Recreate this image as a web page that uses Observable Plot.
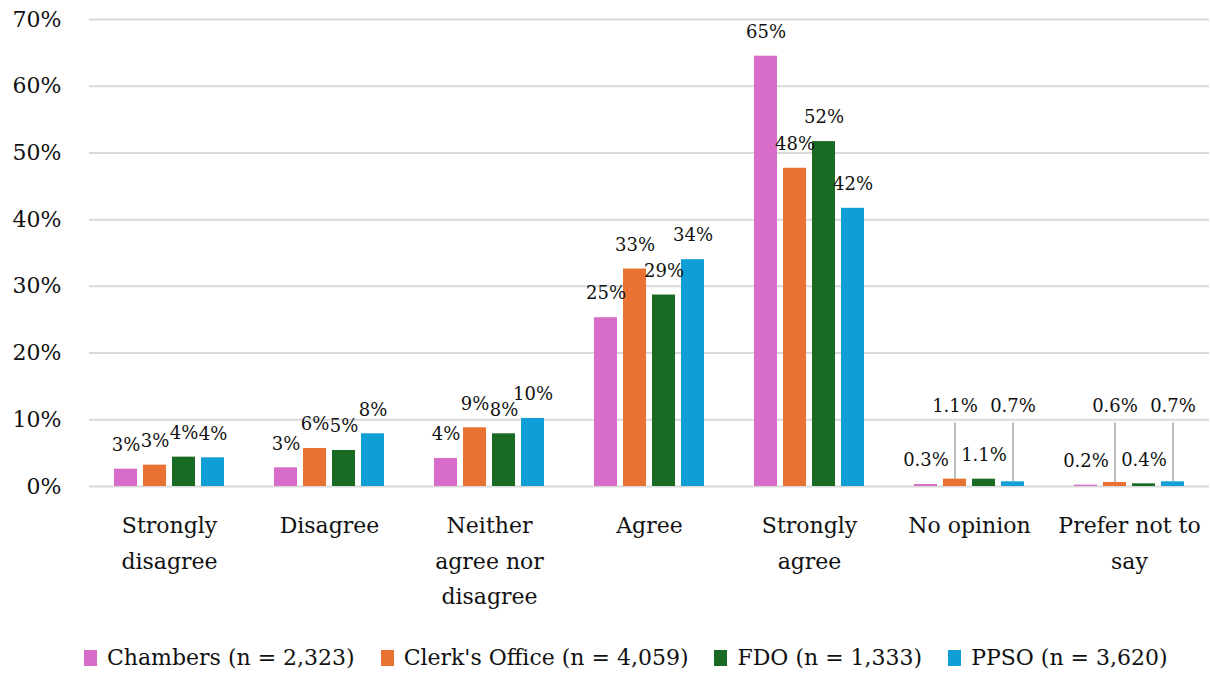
<!DOCTYPE html>
<html>
<head>
<meta charset="utf-8">
<script src="https://cdn.jsdelivr.net/npm/d3@7"></script>
<script src="https://cdn.jsdelivr.net/npm/@observablehq/plot@0.6"></script>
<style>
  html, body { margin: 0; padding: 0; background: #fff; }
  #chart { width: 1210px; height: 675px; position: relative; font-family: "DejaVu Serif", serif; }
  .legend { display: flex; align-items: center; height: 55px; padding-top: 20px; padding-left: 84px; box-sizing: border-box; font-size: 22px; color: #111; white-space: nowrap; }
  .legend .item { display: flex; align-items: center; margin-right: 26px; }
  .legend .sw { width: 13px; height: 16px; margin-right: 10px; }
</style>
</head>
<body>
<div id="chart"></div>
<script>
const categories = ["Strongly disagree", "Disagree", "Neither agree nor disagree", "Agree", "Strongly agree", "No opinion", "Prefer not to say"];
const categoryLines = ["Strongly\ndisagree", "Disagree", "Neither\nagree nor\ndisagree", "Agree", "Strongly\nagree", "No opinion", "Prefer not to\nsay"];
const series = ["Chambers (n = 2,323)", "Clerk's Office (n = 4,059)", "FDO (n = 1,333)", "PPSO (n = 3,620)"];
const chambers = [2.6, 2.8, 4.2, 25.3, 64.5, 0.3, 0.2];
const clerks   = [3.2, 5.7, 8.8, 32.6, 47.7, 1.1, 0.6];
const fdo      = [4.4, 5.4, 7.9, 28.7, 51.7, 1.1, 0.4];
const ppso     = [4.3, 7.9, 10.2, 34.0, 41.7, 0.7, 0.7];
const colors = ["#D76DC9", "#E97132", "#196B24", "#0F9ED5"];
const yTicks = [0, 10, 20, 30, 40, 50, 60, 70];
const decimalCategories = ["No opinion", "Prefer not to say"];
const leaderSeries = [series[1], series[3]];

const valuesBySeries = [chambers, clerks, fdo, ppso];
const data = [];
categories.forEach((c, i) => {
  series.forEach((s, j) => {
    data.push({category: c, series: s, value: valuesBySeries[j][i]});
  });
});
const fmt = d => decimalCategories.includes(d.category) ? d.value.toFixed(1) + "%" : Math.round(d.value) + "%";
const isLifted = d => decimalCategories.includes(d.category) && leaderSeries.includes(d.series);
const LIFT_Y = 12.0;   // label position for lifted labels (chart units)
const LEADER_TOP = 9.5;

const normal = data.filter(d => !isLifted(d));
const lifted = data.filter(d => isLifted(d));

const plot = Plot.plot({
  width: 1210,
  height: 620,
  marginTop: 19,
  marginBottom: 134,
  marginLeft: 88,
  marginRight: 0,
  style: {fontFamily: "DejaVu Serif, serif", color: "#111", background: "#fff"},
  fx: {domain: categories, padding: 0, label: null},
  x: {domain: series, paddingInner: 0.2, paddingOuter: 0.84, axis: null},
  y: {domain: [0, 70], label: null},
  color: {domain: series, range: colors},
  marks: [
    Plot.gridY(yTicks, {stroke: "#d9d9d9", strokeOpacity: 1, strokeWidth: 2}),
    Plot.axisY(yTicks, {tickSize: 0, tickPadding: 28, fontSize: 22, tickFormat: d => d + "%", label: null}),
    Plot.axisFx({anchor: "bottom", tickSize: 0, tickPadding: 22, fontSize: 22, lineHeight: 1.6, tickFormat: c => categoryLines[categories.indexOf(c)], label: null}),
    Plot.barY(data, {fx: "category", x: "series", y: "value", fill: "series"}),
    Plot.ruleX(lifted, {fx: "category", x: "series", y1: "value", y2: () => LEADER_TOP, stroke: "#a6a6a6", strokeWidth: 1.5}),
    Plot.text(normal, {fx: "category", x: "series", y: "value", text: fmt, dy: -24, lineAnchor: "middle", fontSize: 18, fill: "#111"}),
    Plot.text(lifted, {fx: "category", x: "series", y: () => LIFT_Y, text: fmt, lineAnchor: "middle", fontSize: 18, fill: "#111"})
  ]
});
const root = document.getElementById("chart");
root.appendChild(plot);

const legend = document.createElement("div");
legend.className = "legend";
series.forEach((s, i) => {
  const item = document.createElement("div");
  item.className = "item";
  const sw = document.createElement("span");
  sw.className = "sw";
  sw.style.background = colors[i];
  const t = document.createElement("span");
  t.textContent = s;
  item.appendChild(sw);
  item.appendChild(t);
  legend.appendChild(item);
});
root.appendChild(legend);
</script>
</body>
</html>
